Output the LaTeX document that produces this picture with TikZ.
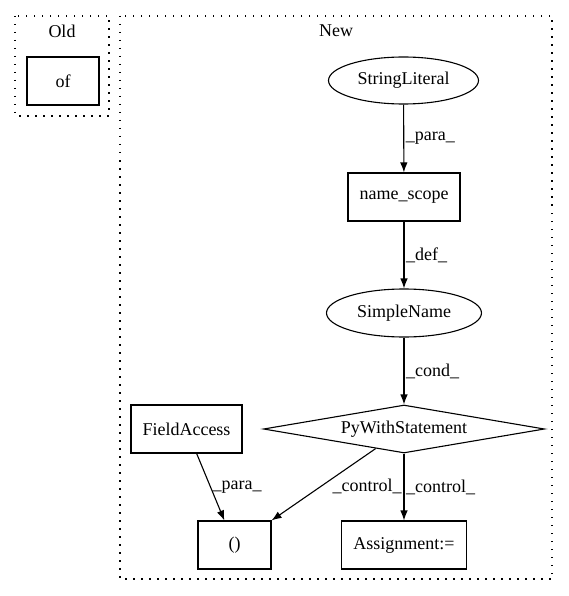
\documentclass[tikz,border=0pt]{standalone}
\usepackage{fontspec}
\setmainfont{Liberation Serif}
\usetikzlibrary{shapes.geometric}
\usetikzlibrary{arrows.meta}
\tikzset{
    txt/.style={font=\fontsize{18}{21}\selectfont},
    box/.style={txt, draw, line width=1.1pt, minimum height=48pt, inner sep=0pt},
    oval/.style={txt, draw, ellipse, line width=1.1pt, minimum height=47pt, inner sep=0pt},
    cond/.style={txt, draw, diamond, aspect=5.8, line width=1.1pt, minimum width=281pt, minimum height=48pt, inner sep=0pt},
    lbl/.style={txt, inner sep=1.5pt},
    edge/.style={-{Latex[length=10pt,width=7.5pt]}, line width=1.1pt},
    cluster/.style={line width=1.1pt, dash pattern=on 1.5pt off 6.5pt}
}

\begin{document}
\begin{tikzpicture}[x=1pt, y=-1pt]
		\useasboundingbox (0,0) rectangle (569,596);

		% old
		\draw[cluster] (15,16) rectangle (109,116);
		\node[txt] (oldtitle) at (62,31) {Old};
		\node[box, minimum width=72pt] (of) at (63,81) {of};

		% new
		\draw[cluster] (120,16) rectangle (552,579);
		\node[txt] (newtitle) at (336,31) {New};
		\node[oval, minimum width=150pt] (strlit) at (403.5,80.5) {StringLiteral};
		\node[box, minimum width=112pt] (namescope) at (404,197) {name\_scope};
		\node[oval, minimum width=155pt, minimum height=48pt] (simplename) at (404,313) {SimpleName};
		\node[cond] (pywith) at (404,429) {PyWithStatement};
		\node[box, minimum width=111pt] (fieldacc) at (186.5,429) {FieldAccess};
		\node[box, minimum width=73pt] (paren) at (234.5,545) {()};
		\node[box, minimum width=125pt] (assign) at (404,545) {Assignment:=};

		\draw[edge] (strlit) -- node[lbl, right] {\_para\_} (namescope);
		\draw[edge] (namescope) -- node[lbl, right] {\_def\_} (simplename);
		\draw[edge] (simplename) -- node[lbl, right] {\_cond\_} (pywith);
		\draw[edge] (fieldacc) -- node[lbl, right, pos=0.5] {\_para\_} (paren);
		\draw[edge] (pywith) -- node[lbl, right, pos=0.53, xshift=10pt] {\_control\_} (paren.north east);
		\draw[edge] (pywith) -- node[lbl, right] {\_control\_} (assign);
	\end{tikzpicture}
\end{document}
